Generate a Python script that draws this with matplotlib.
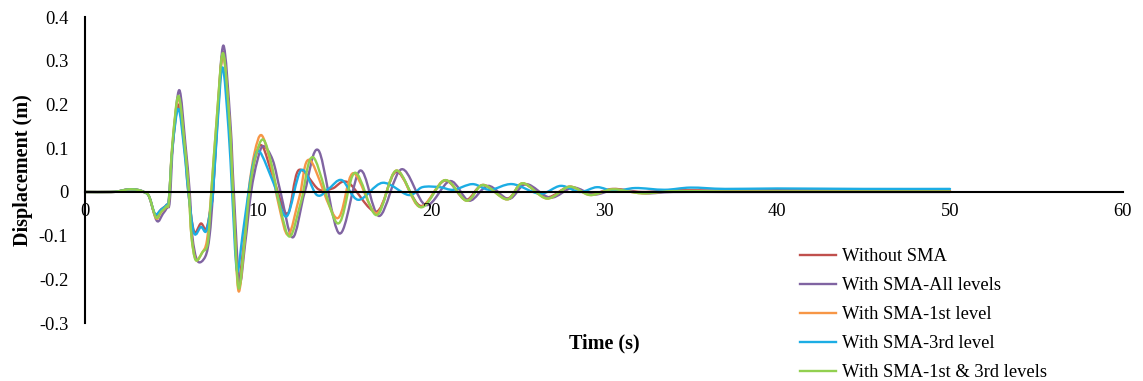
import numpy as np
import matplotlib.pyplot as plt
from matplotlib.path import Path
from matplotlib.patches import PathPatch
from matplotlib.lines import Line2D

plt.rcParams['font.family'] = ['Liberation Serif', 'DejaVu Serif']

# values, time in s, displacement in m
t_none = [0, 1.5, 2.0, 2.5, 3.0, 3.4, 3.7, 4.05, 4.4, 4.7, 4.85, 5.05, 5.4, 5.75, 5.97, 6.3, 6.7,
          7.0, 7.25, 7.4, 7.65, 7.98, 8.35, 8.55, 8.85, 9.2, 9.5, 9.85, 10.25, 10.9, 11.7, 12.35,
          13.5, 14.3, 15.2, 16.85, 18.0, 19.4, 20.8, 22.0, 23.0, 24.4, 25.3, 26.7, 28.0, 29.2,
          30.5, 32.2, 34, 37, 40, 45, 50]
d_none = [0, 0, 0.002, 0.006, 0.005, 0.0, -0.01, -0.052, -0.04, -0.03, -0.015, 0.1, 0.2, 0.1, 0.0,
          -0.09, -0.072, -0.085, -0.04, 0.0, 0.16, 0.32, 0.16, 0.0, -0.2, -0.11, 0.0, 0.08, 0.105,
          0.03, -0.05, 0.05, 0.006, 0.008, 0.022, -0.045, 0.046, -0.032, 0.026, -0.018, 0.016,
          -0.015, 0.019, -0.012, 0.012, -0.005, 0.007, 0.0, 0.004, 0.003, 0.004, 0.003, 0.003]

t_all = [0, 1.5, 2.0, 2.5, 3.0, 3.4, 3.7, 4.15, 4.5, 4.75, 4.9, 5.1, 5.45, 5.8, 6.05, 6.2, 6.5,
         6.95, 7.2, 7.4, 7.65, 8.0, 8.4, 8.6, 8.92, 9.25, 9.6, 9.95, 10.3, 10.85, 11.3, 12.0,
         12.7, 13.5, 14.7, 15.9, 17.0, 18.3, 19.7, 21.1, 22.2, 23.3, 24.5, 25.5, 26.9, 28.2,
         29.4, 30.7, 32.4, 34, 37, 40, 45, 50]
d_all = [0, 0, 0.002, 0.006, 0.005, 0.0, -0.01, -0.066, -0.05, -0.035, -0.02, 0.12, 0.233, 0.11,
         0.0, -0.1, -0.158, -0.148, -0.1, 0.0, 0.17, 0.335, 0.16, 0.0, -0.205, -0.12, 0.0, 0.07,
         0.105, 0.073, 0.0, -0.104, 0.0, 0.095, -0.095, 0.049, -0.055, 0.052, -0.03, 0.025, -0.02,
         0.014, -0.016, 0.018, -0.013, 0.01, -0.006, 0.005, -0.003, 0.0, 0.0, 0.0, 0.0, 0.0]

t_1st = [0, 1.5, 2.0, 2.5, 3.0, 3.4, 3.7, 4.1, 4.4, 4.7, 4.85, 5.05, 5.4, 5.75, 6.0, 6.15, 6.4,
         6.75, 7.05, 7.3, 7.6, 7.97, 8.35, 8.55, 8.86, 9.2, 9.45, 9.8, 10.2, 10.7, 11.2, 11.75,
         12.4, 13.0, 14.55, 15.5, 16.85, 18.0, 19.35, 20.8, 22.05, 23.0, 24.4, 25.3, 26.7, 28.0,
         29.2, 30.5, 32.2, 34, 37, 40, 45, 50]
d_1st = [0, 0, 0.002, 0.006, 0.005, 0.0, -0.01, -0.06, -0.046, -0.034, -0.02, 0.108, 0.215, 0.108,
         0.0, -0.1, -0.155, -0.14, -0.11, 0.0, 0.16, 0.315, 0.16, 0.0, -0.225, -0.12, 0.0, 0.09,
         0.13, 0.07, -0.03, -0.098, -0.01, 0.073, -0.06, 0.043, -0.049, 0.049, -0.034, 0.027,
         -0.02, 0.016, -0.017, 0.02, -0.015, 0.012, -0.007, 0.006, -0.003, 0.002, 0.001, 0.001,
         0.001, 0.001]

t_3rd = [0, 1.5, 2.0, 2.5, 3.0, 3.4, 3.7, 4.05, 4.4, 4.7, 4.85, 5.05, 5.4, 5.75, 5.97, 6.3, 6.7,
         7.0, 7.25, 7.4, 7.65, 7.95, 8.3, 8.5, 8.78, 9.1, 9.45, 9.75, 10.1, 10.9, 11.65, 12.5,
         13.4, 14.1, 14.85, 15.8, 17.2, 18.7, 19.5, 20.5, 21.3, 22.4, 23.4, 24.7, 26.3, 27.5,
         28.6, 29.6, 30.6, 31.8, 33.5, 35.0, 37, 40, 45, 50]
d_3rd = [0, 0, 0.002, 0.006, 0.005, 0.0, -0.01, -0.05, -0.04, -0.03, -0.015, 0.1, 0.19, 0.09, 0.0,
         -0.094, -0.08, -0.09, -0.04, 0.0, 0.15, 0.285, 0.14, 0.0, -0.18, -0.1, 0.0, 0.07, 0.092,
         0.02, -0.056, 0.05, -0.007, 0.008, 0.027, -0.018, 0.021, -0.007, 0.011, 0.011, 0.005,
         0.018, 0.005, 0.018, -0.004, 0.014, 0.0, 0.011, 0.002, 0.009, 0.005, 0.01, 0.007, 0.008,
         0.007, 0.007]

t_13 = [0, 1.5, 2.0, 2.5, 3.0, 3.4, 3.7, 4.1, 4.4, 4.7, 4.85, 5.05, 5.4, 5.75, 6.0, 6.15, 6.4,
        6.8, 7.1, 7.3, 7.6, 7.97, 8.35, 8.55, 8.86, 9.2, 9.5, 9.85, 10.3, 10.8, 11.3, 11.85,
        12.5, 13.2, 14.6, 15.6, 16.85, 18.0, 19.4, 20.8, 22.05, 23.0, 24.4, 25.3, 26.7, 28.0,
        29.2, 30.5, 32.2, 34, 37, 40, 45, 50]
d_13 = [0, 0, 0.002, 0.006, 0.005, 0.0, -0.01, -0.058, -0.045, -0.033, -0.02, 0.11, 0.22, 0.11,
        0.0, -0.1, -0.156, -0.137, -0.115, 0.0, 0.16, 0.318, 0.16, 0.0, -0.218, -0.12, 0.0, 0.08,
        0.12, 0.06, -0.04, -0.102, -0.02, 0.079, -0.072, 0.044, -0.053, 0.049, -0.035, 0.027,
        -0.02, 0.016, -0.017, 0.02, -0.015, 0.012, -0.007, 0.006, -0.003, 0.002, 0.001, 0.001,
        0.001, 0.001]

labels = ['Without SMA', 'With SMA-All levels', 'With SMA-1st level',
          'With SMA-3rd level', 'With SMA-1st & 3rd levels']
colors = ['#C0504D', '#8064A2', '#F79646', '#1CADE4', '#92D050']
x_ticks = [0, 10, 20, 30, 40, 50, 60]
y_ticks = [-0.3, -0.2, -0.1, 0, 0.1, 0.2, 0.3, 0.4]
y_tick_labels = ['-0.3', '-0.2', '-0.1', '0', '0.1', '0.2', '0.3', '0.4']


def smooth_path(t, d):
    # excel-style smoothed line: cubic bezier through the points
    p = np.column_stack([t, d]).astype(float)
    ext = np.vstack([p[0], p, p[-1]])
    verts = [p[0]]
    codes = [Path.MOVETO]
    for i in range(1, len(ext) - 2):
        c1 = ext[i] + (ext[i + 1] - ext[i - 1]) / 6
        c2 = ext[i + 1] - (ext[i + 2] - ext[i]) / 6
        verts += [c1, c2, ext[i + 1]]
        codes += [Path.CURVE4] * 3
    return Path(verts, codes)


fig = plt.figure(figsize=(11.43, 3.81), dpi=100)
ax = fig.add_axes([0.0744, 0.152, 0.9081, 0.803])

series = [(t_none, d_none), (t_all, d_all), (t_1st, d_1st), (t_3rd, d_3rd), (t_13, d_13)]
handles = []
for (t, d), c, lab in zip(series, colors, labels):
    ax.add_patch(PathPatch(smooth_path(t, d), fill=False, edgecolor=c, lw=1.7,
                           capstyle='round', joinstyle='round'))
    handles.append(Line2D([], [], color=c, lw=1.7, label=lab))

ax.set_xlim(0, 60)
ax.set_ylim(-0.3, 0.4)
ax.set_xticks(x_ticks)
ax.set_yticks(y_ticks)
ax.set_yticklabels(y_tick_labels)
ax.tick_params(length=0, labelsize=13.3, colors='black')
ax.tick_params(axis='y', pad=12)
ax.tick_params(axis='x', pad=8)

for s in ['top', 'right']:
    ax.spines[s].set_visible(False)
ax.spines['bottom'].set_position(('data', 0))
ax.spines['left'].set_linewidth(1.5)
ax.spines['bottom'].set_linewidth(1.5)

ax.set_xlabel('Time (s)', fontsize=14.5, fontweight='bold')
ax.xaxis.set_label_coords(0.5, -0.035)
ax.set_ylabel('Displacement (m)', fontsize=14.5, fontweight='bold')
ax.yaxis.set_label_coords(-0.05, 0.5)

fig.legend(handles=handles, loc='upper left', bbox_to_anchor=(800 / 1143, 1 - 248 / 381),
           frameon=False, fontsize=13.3, handlelength=1.95, handletextpad=0.32,
           labelspacing=0.65, borderpad=0, borderaxespad=0)

fig.savefig('out.png', dpi=100)
